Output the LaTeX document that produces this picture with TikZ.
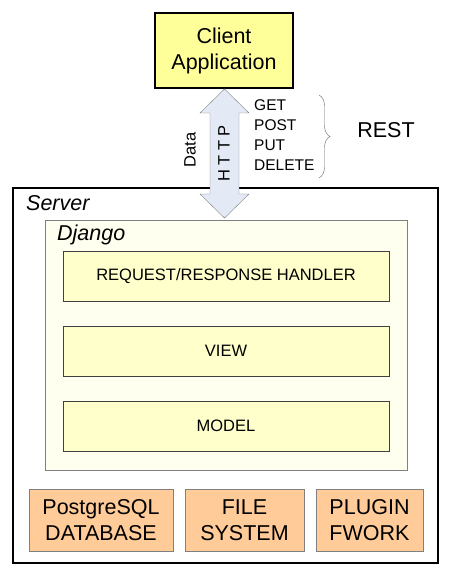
\documentclass[tikz,border=0pt]{standalone}
\usepackage{fontspec}
\setmainfont{Liberation Sans}
\usetikzlibrary{decorations.pathreplacing}
\definecolor{clientyellow}{HTML}{FFFF99}
\definecolor{layeryellow}{HTML}{FFFFCC}
\definecolor{djangoivory}{HTML}{FFFFF0}
\definecolor{storepeach}{HTML}{FFCC99}
\definecolor{httpblue}{HTML}{E4EAF5}
\begin{document}
\begin{tikzpicture}[x=1pt, y=-1pt,
    bigtext/.style={font=\fontsize{21.5}{26}\selectfont},
    smalltext/.style={font=\fontsize{16.5}{19}\selectfont},
    layer/.style={draw=black!75, fill=layeryellow, minimum width=326pt, minimum height=50pt, smalltext},
    store/.style={draw=black!50, fill=storepeach, minimum height=62pt, align=center, bigtext, inner sep=0pt}]

    \useasboundingbox (0,0) rectangle (452,577);

    \node [draw, line width=1.5pt, fill=clientyellow, minimum width=138pt, minimum height=75pt, align=center, bigtext] (client) at (224, 50.5) {Client\\Application};
    \node [draw, line width=1.5pt, minimum width=425pt, minimum height=375pt] (server) at (225.5, 375.5) {};
    \node [draw=black!50, fill=djangoivory, minimum width=362pt, minimum height=250pt] (django) at (226, 345) {};

    \node [anchor=west, bigtext, inner sep=0pt] (srvlabel) at (26, 203) {\itshape Server};
    \node [anchor=west, bigtext, inner sep=0pt] (djlabel) at (57, 235) {\itshape Django};

    \node [layer] (req) at (226, 276) {REQUEST/RESPONSE HANDLER};
    \node [layer] (view) at (226, 351) {VIEW};
    \node [layer] (model) at (226, 426) {MODEL};

    \node [store, minimum width=144pt] (db) at (101, 520) {PostgreSQL\\DATABASE};
    \node [store, minimum width=119pt] (fs) at (244.5, 520) {FILE\\SYSTEM};
    \node [store, minimum width=107pt] (plug) at (369.5, 520) {PLUGIN\\FWORK};

    % http arrow between client and django
    \draw [draw=black!50, fill=httpblue] (224.5, 89) -- (249, 113) -- (239, 113) -- (239, 194) -- (249, 194)
        -- (224.5, 218) -- (200, 194) -- (210, 194) -- (210, 113) -- (200, 113) -- cycle;
    \node [rotate=90, smalltext] (http) at (224, 153.5) {H T T P};
    \node [rotate=90, smalltext] (data) at (190, 150) {Data};

    \node [anchor=west, align=left, inner sep=0pt, font=\fontsize{15.5}{20}\selectfont] (verbs) at (254, 135) {GET\\POST\\PUT\\DELETE};
    \coordinate (btop) at (319, 95);
    \coordinate (bbot) at (319, 178);
    \draw [black!60, decorate, decoration={brace, amplitude=11pt}] (btop) to (bbot);
    \node [bigtext] (rest) at (386, 130) {REST};

\end{tikzpicture}
\end{document}
